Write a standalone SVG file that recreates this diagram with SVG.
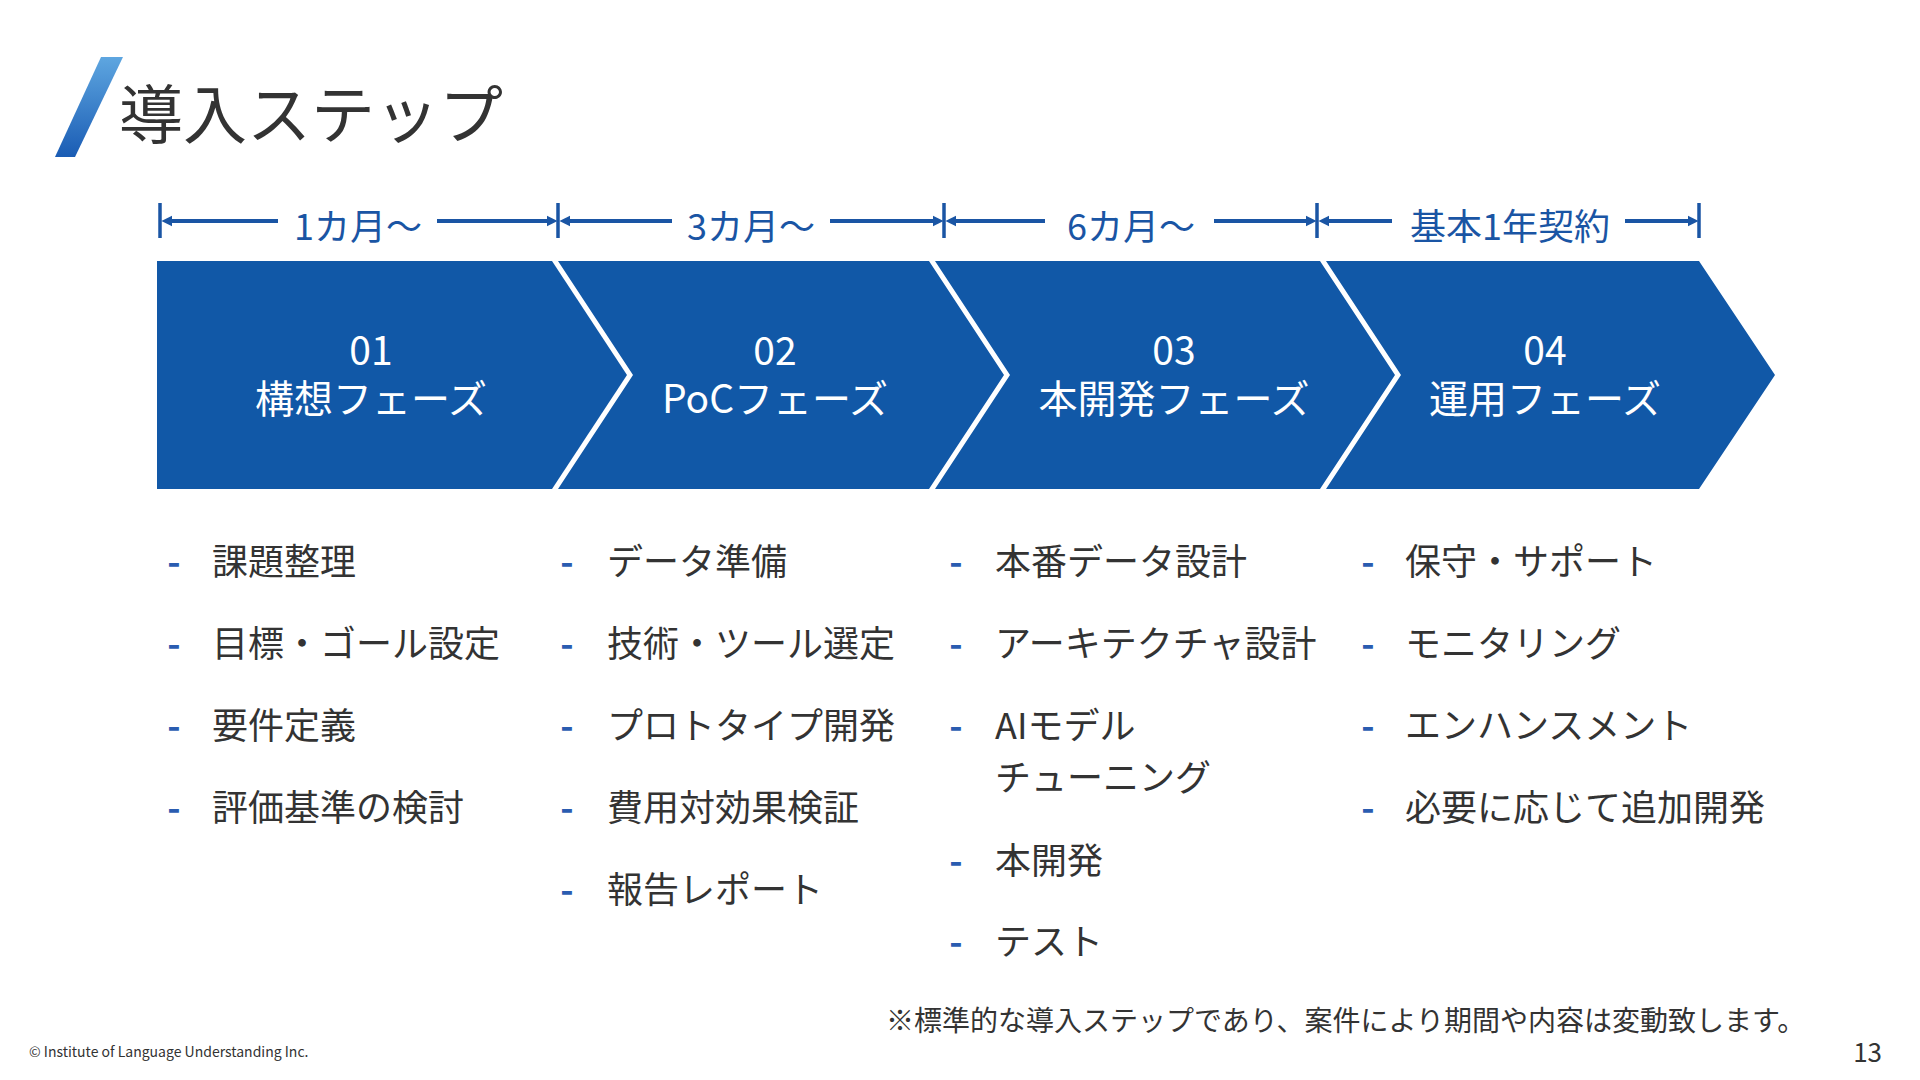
<svg xmlns="http://www.w3.org/2000/svg" width="1920" height="1080" viewBox="0 0 1920 1080">
<defs>
<linearGradient id="slashGrad" x1="0" y1="0" x2="0" y2="1">
<stop offset="0" stop-color="#5ea6e0"/>
<stop offset="1" stop-color="#1a5cb4"/>
</linearGradient>
<marker id="arr" markerUnits="userSpaceOnUse" viewBox="0 0 10 10" markerWidth="11" markerHeight="12" refX="4" refY="5" orient="auto">
<path d="M0,0 L10,5 L0,10 z" fill="#1a55a4"/>
</marker>
<style>
.jp{font-family:"Noto Sans CJK JP","Noto Sans",sans-serif;}
.title{font-size:64px;fill:#333333;}
.period{font-size:36px;fill:#1a55a4;text-anchor:middle;}
.chev{fill:#1158a7;}
.num{font-size:39px;fill:#ffffff;text-anchor:middle;}
.item{font-size:36px;fill:#333333;}
.dash{font-size:36px;fill:#2a5cb0;font-weight:700;text-anchor:middle;}
.line{stroke:#1a55a4;stroke-width:4;fill:none;}
.tick{stroke:#1a55a4;stroke-width:3.5;fill:none;}
.note{font-size:28px;fill:#333333;}
.copy{font-size:14px;fill:#333333;}
.page{font-size:26px;fill:#333333;text-anchor:end;}
</style>
</defs>
<rect width="1920" height="1080" fill="#ffffff"/>

<g id="title">
<polygon points="101,57 123,57 75,157 55,157" fill="url(#slashGrad)"/>
<text class="jp title" x="119" y="138">導入ステップ</text>
</g>

<g id="connectors">
<line class="tick" x1="160" y1="203" x2="160" y2="238"/>
<line class="tick" x1="558" y1="203" x2="558" y2="238"/>
<line class="tick" x1="944" y1="203" x2="944" y2="238"/>
<line class="tick" x1="1317" y1="203" x2="1317" y2="238"/>
<line class="tick" x1="1699" y1="203" x2="1699" y2="238"/>
<line class="line" x1="278" y1="221" x2="168" y2="221" marker-end="url(#arr)"/>
<line class="line" x1="437" y1="221" x2="551" y2="221" marker-end="url(#arr)"/>
<line class="line" x1="672" y1="221" x2="566" y2="221" marker-end="url(#arr)"/>
<line class="line" x1="830" y1="221" x2="937" y2="221" marker-end="url(#arr)"/>
<line class="line" x1="1045" y1="221" x2="952" y2="221" marker-end="url(#arr)"/>
<line class="line" x1="1214" y1="221" x2="1310" y2="221" marker-end="url(#arr)"/>
<line class="line" x1="1392" y1="221" x2="1325" y2="221" marker-end="url(#arr)"/>
<line class="line" x1="1625" y1="221" x2="1692" y2="221" marker-end="url(#arr)"/>
</g>

<g id="periods">
<text class="jp period" x="358" y="240">1カ月〜</text>
<text class="jp period" x="751" y="240">3カ月〜</text>
<text class="jp period" x="1131" y="240">6カ月〜</text>
<text class="jp period" x="1510" y="240">基本1年契約</text>
</g>

<g id="phase1">
<polygon class="chev" points="157,261 552,261 627,375 552,489 157,489"/>
<text class="jp num" x="371" y="365"><tspan x="371" y="365">01</tspan><tspan x="371" y="413">構想フェーズ</tspan></text>
</g>
<g id="phase2">
<polygon class="chev" points="558,261 929,261 1004,375 929,489 558,489 633,375"/>
<text class="jp num" x="775" y="365"><tspan x="775" y="365">02</tspan><tspan x="775" y="413">PoCフェーズ</tspan></text>
</g>
<g id="phase3">
<polygon class="chev" points="935,261 1320,261 1395,375 1320,489 935,489 1010,375"/>
<text class="jp num" x="1174" y="365"><tspan x="1174" y="365">03</tspan><tspan x="1174" y="413">本開発フェーズ</tspan></text>
</g>
<g id="phase4">
<polygon class="chev" points="1326,261 1699,261 1775,375 1699,489 1326,489 1401,375"/>
<text class="jp num" x="1545" y="365"><tspan x="1545" y="365">04</tspan><tspan x="1545" y="413">運用フェーズ</tspan></text>
</g>

<g id="list1">
<text class="jp dash" x="174" y="575">-</text><text class="jp item" x="212" y="575">課題整理</text>
<text class="jp dash" x="174" y="657">-</text><text class="jp item" x="212" y="657">目標・ゴール設定</text>
<text class="jp dash" x="174" y="739">-</text><text class="jp item" x="212" y="739">要件定義</text>
<text class="jp dash" x="174" y="821">-</text><text class="jp item" x="212" y="821">評価基準の検討</text>
</g>
<g id="list2">
<text class="jp dash" x="567" y="575">-</text><text class="jp item" x="607" y="575">データ準備</text>
<text class="jp dash" x="567" y="657">-</text><text class="jp item" x="607" y="657">技術・ツール選定</text>
<text class="jp dash" x="567" y="739">-</text><text class="jp item" x="607" y="739">プロトタイプ開発</text>
<text class="jp dash" x="567" y="821">-</text><text class="jp item" x="607" y="821">費用対効果検証</text>
<text class="jp dash" x="567" y="903">-</text><text class="jp item" x="607" y="903">報告レポート</text>
</g>
<g id="list3">
<text class="jp dash" x="956" y="575">-</text><text class="jp item" x="995" y="575">本番データ設計</text>
<text class="jp dash" x="956" y="657">-</text><text class="jp item" x="995" y="657">アーキテクチャ設計</text>
<text class="jp dash" x="956" y="739">-</text><text class="jp item" x="995" y="739"><tspan x="995" y="739">AIモデル</tspan><tspan x="995" y="791">チューニング</tspan></text>
<text class="jp dash" x="956" y="874">-</text><text class="jp item" x="995" y="874">本開発</text>
<text class="jp dash" x="956" y="955">-</text><text class="jp item" x="995" y="955">テスト</text>
</g>
<g id="list4">
<text class="jp dash" x="1368" y="575">-</text><text class="jp item" x="1405" y="575">保守・サポート</text>
<text class="jp dash" x="1368" y="657">-</text><text class="jp item" x="1405" y="657">モニタリング</text>
<text class="jp dash" x="1368" y="739">-</text><text class="jp item" x="1405" y="739">エンハンスメント</text>
<text class="jp dash" x="1368" y="821">-</text><text class="jp item" x="1405" y="821">必要に応じて追加開発</text>
</g>

<g id="footer">
<text class="jp note" x="886" y="1031">※標準的な導入ステップであり、案件により期間や内容は変動致します。</text>
<text class="jp copy" x="29" y="1057">© Institute of Language Understanding Inc.</text>
<text class="jp page" x="1882" y="1062">13</text>
</g>
</svg>
